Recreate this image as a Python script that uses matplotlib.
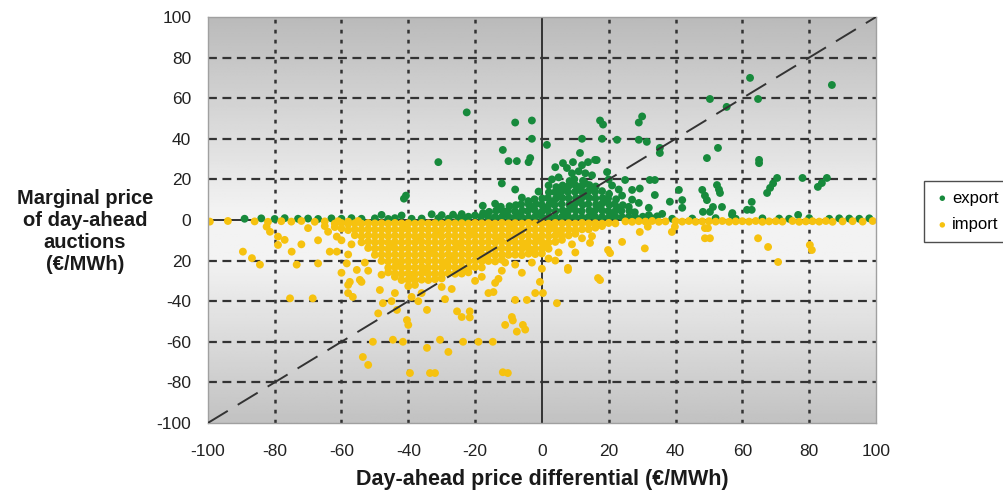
import matplotlib.pyplot as plt
import numpy as np

plt.rcParams['font.family'] = ['Liberation Sans', 'DejaVu Sans']

x_ticks = [-100, -80, -60, -40, -20, 0, 20, 40, 60, 80, 100]
y_ticks = [-100, -80, -60, -40, -20, 0, 20, 40, 60, 80, 100]
x_tick_labels = ['-100', '-80', '-60', '-40', '-20', '0', '20', '40', '60', '80', '100']
y_tick_labels = ['-100', '-80', '-60', '-40', '20', '0', '20', '40', '60', '80', '100']

# export points (x = price differential, y = marginal price)
export_pts = [
    # along the zero line
    (-89, 0.6), (-84, 0.8), (-80, 0.5), (-77, 0.9), (-73, 0.6), (-70, 0.7), (-67, 0.5), (-63, 0.8),
    (-60, 0.6), (-57, 0.9), (-54, 0.6), (-50, 0.8), (-46, 0.5), (-44, 0.9), (-39, 0.6), (-36, 0.7),
    (-31, 0.8), (-28, 0.6), (-25, 0.9), (-23, 0.7), (33, 0.8), (39, 0.6), (45, 0.7), (52, 0.9),
    (58, 0.6), (66, 0.8), (71, 0.7), (74, 0.6), (80, 0.9), (86, 0.6), (89, 0.8), (92, 0.7),
    (95, 0.6), (98, 0.8),
    # dense cluster
    (-22, 1.6), (-20, 2.2), (-18.2, 1.5), (-17.6, 3.4), (-16, 1.4), (-15.8, 4.0), (-14, 1.5), (-13.7, 4.6),
    (-12.1, 1.3), (-11.8, 4.4), (-12.3, 6.5), (-10, 1.6), (-10.2, 4.5), (-9.7, 6.8),
    (-8, 1.4), (-8.1, 4.3), (-7.8, 7.3), (-6.1, 1.5), (-5.9, 4.6), (-6.2, 7.7),
    (-4, 1.3), (-4.2, 4.4), (-3.9, 7.5), (-4.1, 9.3), (-2, 1.6), (-2.1, 4.7), (-1.8, 7.8), (-2.2, 10.2),
    (0, 1.4), (0.2, 4.5), (-0.1, 7.6), (0.1, 10.6),
    (2, 1.5), (1.9, 4.6), (2.2, 7.7), (1.8, 10.8), (2.1, 13.6),
    (4, 1.3), (4.1, 4.4), (3.8, 7.5), (4.2, 10.6), (3.9, 13.7), (4.3, 16.2),
    (6, 1.6), (6.2, 4.7), (5.9, 7.8), (6.1, 10.9), (5.8, 14), (6.2, 17),
    (8, 1.4), (7.9, 4.5), (8.2, 7.6), (8, 10.7), (7.8, 13.8), (8.1, 16.9), (8.3, 19.2),
    (10, 1.5), (10.1, 4.6), (9.8, 7.7), (10.2, 10.8), (9.9, 13.9), (10.1, 17), (9.7, 20),
    (12, 1.3), (11.9, 4.4), (12.2, 7.5), (11.8, 10.6), (12.1, 13.7), (12, 16.8), (12.3, 19.3),
    (14, 1.6), (14.2, 4.7), (13.9, 7.8), (14.1, 10.9), (13.8, 14), (14.2, 17.2),
    (16, 1.4), (15.8, 4.5), (16.2, 7.6), (16, 10.7), (15.9, 13.8), (16.1, 16.5),
    (18, 1.5), (18.1, 4.6), (17.8, 7.7), (18.2, 10.8), (18, 14.2),
    (20, 1.3), (19.9, 4.4), (20.2, 7.5), (19.8, 10.6), (20.1, 12.8),
    (22, 1.6), (22.1, 4.7), (21.8, 7.8), (22.2, 10.2), (24, 1.4), (23.8, 4.5), (24.2, 7.3),
    (26, 1.5), (26.2, 4.4), (28, 1.3), (27.8, 3.8), (30.2, 1.6), (32, 2.4), (34.5, 1.8), (36, 3),
    (2, 17), (5, 21), (9, 23), (11, 24), (15, 22), (3, 20), (-1, 14), (21, 17), (24, 12), (27, 10),
    (20, 20), (13, 23), (-6, 11), (-14, 8), (23, 15), (4, 26), (12, 27), (15.9, 29.6),
    (-1, 3), (1, 6), (3, 9), (5, 12), (7, 3), (9, 6), (11, 9), (13, 12), (15, 3), (17, 6), (19, 9),
    (-3, 6), (-7, 3), (-11, 3), (21, 3), (23, 6), (7, 15), (11, 15), (15, 15), (9, 18), (13, 18),
    # scattered
    (-22.5, 53), (-8, 48), (-3, 49), (-3, 40), (-11.7, 34.5), (-10, 29), (-7.5, 29), (-4, 28.5),
    (-3.5, 30.5), (-31, 28.5), (-40.7, 12), (-41.3, 10.5), (-12, 18), (-8, 15), (-17.7, 7),
    (-48, 2.5), (-42, 2.2), (-33, 2.8), (-30, 2.4), (-26.6, 2.6), (-24, 2.9),
    (17.4, 49), (18.3, 47), (29, 48), (30, 51), (12, 40), (18, 40), (22.5, 39.5), (29, 39.5),
    (31.4, 38.5), (35.3, 35.5), (35.3, 33), (1.5, 37), (11.4, 33), (9.3, 28.5), (13.8, 28.5),
    (16.4, 29.5), (6.3, 28), (7.5, 25.6), (49.4, 30.5), (19.5, 23.6), (32.3, 19.7), (33.8, 19.7),
    (24.9, 19.7), (27, 14.8), (29.3, 15.5), (33.8, 12.3), (41, 14.8), (42, 9.8), (48, 14.8),
    (49.4, 9.8), (48.8, 12), (38.3, 9), (42, 6), (29, 8.4), (32, 6), (26, 6.5),
    (62.3, 70), (86.8, 66.5), (64.7, 59.6), (55.3, 55.7), (50.3, 59.6), (52.7, 35.5), (65, 29.6),
    (65, 28), (70.4, 20.7), (69.2, 18), (68.3, 15.8), (67.4, 13.3), (78, 20.7), (85.3, 20.7),
    (83.8, 18.2), (82.6, 16.3), (52.4, 17.2), (53.3, 13.3), (53, 15), (51.2, 6.4), (53.9, 6.4),
    (62.8, 8.9), (62.8, 5), (61.4, 5), (56.9, 2.5), (76.7, 2.5), (48.2, 4), (50.3, 4), (57, 3.4),
]

# import points
import_pts = [
    # along the zero line
    (-99.4, -0.8), (-94, -0.5), (-86, -0.7), (-82, -0.9), (-78, -0.6), (-75, -0.8), (-72, -0.5),
    (-68, -0.9), (-65, -0.7), (-61, -0.6), (-58, -0.8), (-55, -0.5),
    (25, -0.7), (27, -0.9), (29, -0.6), (31, -0.8), (33, -0.5), (35, -0.9), (37, -0.7), (40, -0.6),
    (42, -0.8), (44, -0.5), (46, -0.9), (48, -0.7), (50, -0.6), (52, -0.8), (54, -0.5), (56, -0.9),
    (58, -0.7), (60, -0.6), (62, -0.8), (64, -0.5), (66, -0.9), (68, -0.7), (70, -0.6), (72, -0.8),
    (75, -0.5), (77, -0.9), (79, -0.7), (81, -0.6), (83, -0.8), (85, -0.5), (87, -0.9), (90, -0.7),
    (93, -0.6), (96, -0.8), (99, -0.5),
    # dense cluster
    (-62, -1.8), (-62, -3.5), (-60, -1.5), (-60, -4.2), (-58, -2), (-58, -5),
    (-56, -1.6), (-56, -4.6), (-56, -7.5),
    (-54, -1.8), (-54, -4.8), (-54, -8), (-54, -11),
    (-52, -1.5), (-52, -4.5), (-52, -7.6), (-52, -10.7), (-52, -13.8),
    (-50, -1.7), (-50, -4.8), (-50, -7.9), (-50, -11), (-50, -14.1), (-50, -17.2),
    (-48, -1.6), (-48, -4.7), (-48, -7.8), (-48, -10.9), (-48, -14), (-48, -17.1), (-48, -20.2),
    (-46, -1.8), (-46, -4.9), (-46, -8), (-46, -11.1), (-46, -14.2), (-46, -17.3), (-46, -20.4), (-46, -23.5), (-46, -25.8),
    (-44, -1.5), (-44, -4.6), (-44, -7.7), (-44, -10.8), (-44, -13.9), (-44, -17), (-44, -20.1), (-44, -23.2), (-44, -26.3), (-44, -28),
    (-42, -1.7), (-42, -4.8), (-42, -7.9), (-42, -11), (-42, -14.1), (-42, -17.2), (-42, -20.3), (-42, -23.4), (-42, -26.5), (-42, -29.6),
    (-40, -1.6), (-40, -4.7), (-40, -7.8), (-40, -10.9), (-40, -14), (-40, -17.1), (-40, -20.2), (-40, -23.3), (-40, -26.4), (-40, -29.5), (-40, -32.6),
    (-38, -1.8), (-38, -4.9), (-38, -8), (-38, -11.1), (-38, -14.2), (-38, -17.3), (-38, -20.4), (-38, -23.5), (-38, -26.6), (-38, -29.7), (-38, -32),
    (-36, -1.5), (-36, -4.6), (-36, -7.7), (-36, -10.8), (-36, -13.9), (-36, -17), (-36, -20.1), (-36, -23.2), (-36, -26.3), (-36, -29.4),
    (-34, -1.7), (-34, -4.8), (-34, -7.9), (-34, -11), (-34, -14.1), (-34, -17.2), (-34, -20.3), (-34, -23.4), (-34, -26.5), (-34, -29.6),
    (-32, -1.6), (-32, -4.7), (-32, -7.8), (-32, -10.9), (-32, -14), (-32, -17.1), (-32, -20.2), (-32, -23.3), (-32, -26.4), (-32, -29.2),
    (-30, -1.8), (-30, -4.9), (-30, -8), (-30, -11.1), (-30, -14.2), (-30, -17.3), (-30, -20.4), (-30, -23.5), (-30, -26.6), (-30, -28.8),
    (-28, -1.5), (-28, -4.6), (-28, -7.7), (-28, -10.8), (-28, -13.9), (-28, -17), (-28, -20.1), (-28, -23.2), (-28, -26.3),
    (-26, -1.7), (-26, -4.8), (-26, -7.9), (-26, -11), (-26, -14.1), (-26, -17.2), (-26, -20.3), (-26, -23.4), (-26, -26.5),
    (-24, -1.6), (-24, -4.7), (-24, -7.8), (-24, -10.9), (-24, -14), (-24, -17.1), (-24, -20.2), (-24, -23.3), (-24, -26.4),
    (-22, -1.8), (-22, -4.9), (-22, -8), (-22, -11.1), (-22, -14.2), (-22, -17.3), (-22, -20.4), (-22, -23.5), (-22, -25.8),
    (-20, -1.5), (-20, -4.6), (-20, -7.7), (-20, -10.8), (-20, -13.9), (-20, -17), (-20, -20.1), (-20, -23.2),
    (-18, -1.7), (-18, -4.8), (-18, -7.9), (-18, -11), (-18, -14.1), (-18, -17.2), (-18, -20.3), (-18, -23.4),
    (-16, -1.6), (-16, -4.7), (-16, -7.8), (-16, -10.9), (-16, -14), (-16, -17.1), (-16, -20.2),
    (-14, -1.8), (-14, -4.9), (-14, -8), (-14, -11.1), (-14, -14.2), (-14, -17.3), (-14, -20.4),
    (-12, -1.5), (-12, -4.6), (-12, -7.7), (-12, -10.8), (-12, -13.9), (-12, -17), (-12, -19.6),
    (-10, -1.7), (-10, -4.8), (-10, -7.9), (-10, -11), (-10, -14.1), (-10, -17.2),
    (-8, -1.6), (-8, -4.7), (-8, -7.8), (-8, -10.9), (-8, -14), (-8, -17.1),
    (-6, -1.8), (-6, -4.9), (-6, -8), (-6, -11.1), (-6, -14.2), (-6, -17.3),
    (-4, -1.5), (-4, -4.6), (-4, -7.7), (-4, -10.8), (-4, -13.9), (-4, -16.6),
    (-2, -1.7), (-2, -4.8), (-2, -7.9), (-2, -11), (-2, -14.1), (-2, -16.8),
    (0, -1.6), (0, -4.7), (0, -7.8), (0, -10.9), (0, -14), (0, -16.5),
    (2, -1.8), (2, -4.9), (2, -8), (2, -11.1), (2, -14.2),
    (4, -1.5), (4, -4.6), (4, -7.7), (4, -10.8), (6, -1.7), (6, -4.8), (6, -7.9), (6, -9.8),
    (8, -1.6), (8, -4.7), (8, -7.6), (10, -1.8), (10, -4.9), (10, -6.8),
    (12, -1.5), (12, -4.6), (14, -1.7), (14, -4.6), (16, -1.6), (16, -3.8), (18, -1.8), (18, -3),
    (20, -1.5), (22, -1.7),
    # scattered
    (-89.5, -15.6), (-86.8, -18.8), (-84.4, -22), (-82.4, -3.3), (-81.4, -5.8), (-79, -8.2), (-77, -9.8),
    (-79, -12.3), (-74.9, -15.6), (-73.4, -22), (-67, -21.4), (-75.4, -38.6), (-68.6, -38.6),
    (-64, -5.8), (-63.5, -15.6), (-61.4, -15.6), (-61.4, -8.2), (-58.4, -21.4), (-55.4, -24.6),
    (-54, -30.5), (-58, -32), (-56.6, -37.9), (-53.6, -67.5), (-50.6, -60), (-54.5, -29.5),
    (-57.5, -30.5), (-58, -36), (-52, -71.4), (-44.6, -59), (-41.6, -60), (-39.5, -75.4),
    (-33.5, -75.4), (-32, -75.4), (-34.4, -63), (-28, -65), (-30.5, -59), (-23.6, -60), (-19, -60),
    (-14.7, -60), (-11.7, -75), (-10.2, -75.4), (-25.4, -45), (-24, -47.8), (-21.6, -45), (-21.6, -48),
    (-9, -47.8), (-8.7, -49.5), (-11, -51.7), (-5.7, -51.7), (-7.5, -55), (-5, -54), (-40.4, -49.3),
    (-40, -51.7), (-43.4, -44.3), (-47.6, -41), (-49, -46), (-34.4, -44.3), (0.3, -36), (-0.6, -30.5),
    (4.5, -41), (-8, -39.4), (-4.5, -39.4), (-2, -36), (7.8, -24.6), (17.4, -29.6), (-39, -37.9),
    (-16, -36), (-14.5, -35.5), (-14, -31), (-48.5, -34.5),
    (14.4, -11.3), (19.8, -14.8), (24, -10.8), (30.8, -14), (29.3, -5.9), (31.7, -3.3), (38.9, -5.9),
    (39.8, -3.3), (48.8, -9), (50.3, -9), (64.7, -9), (67.7, -13.3), (70.7, -20.7), (80.2, -12.3),
    (80.8, -14.8), (7.8, -23.6), (16.8, -28.6), (20.4, -16.3), (48.8, -4), (49.7, -4),
    (-36, -36), (-30, -33), (-27, -34), (-20, -30), (-18, -28), (-12, -25), (-8, -22), (-3, -21),
    (2, -19), (5, -16), (9, -12), (12, -9), (-44, -36), (-45, -40), (-37, -40), (-29, -39), (-13, -29),
    (-6, -26), (0, -24), (4, -20), (10, -16), (15, -8), (-60, -10), (-57, -12), (-65, -3), (-70, -4),
    (-67, -10), (-72, -12), (-58, -17), (-53, -21), (-60, -26), (-48, -27), (-52, -25),
    (-41, -3), (-37, -9), (-33, -15), (-29, -21), (-25, -12), (-21, -6), (-17, -18), (-13, -9),
    (-9, -3), (-5, -12), (-1, -9), (3, -3), (-45, -12), (-39, -27), (-31, -6), (-27, -18), (-23, -24),
    (-19, -15), (-15, -3), (-11, -21), (-7, -6), (-3, -15), (1, -12), (5, -6), (-43, -21), (-35, -24),
]

ex_x, ex_y = zip(*export_pts)
im_x, im_y = zip(*import_pts)

fig = plt.figure(figsize=(10.04, 4.95), dpi=100)
ax = fig.add_axes([0.207, 0.1455, 0.6655, 0.8202])

# grey gradient background, light around zero
yy = np.linspace(-100, 100, 256)
shade = np.interp(yy, [-100, -20, 5, 100], [0.76, 0.95, 0.95, 0.73])
bg = np.repeat(shade[:, None], 2, axis=1)
ax.imshow(bg, extent=[-100, 100, -100, 100], origin='lower', aspect='auto', cmap='gray',
          vmin=0, vmax=1, interpolation='bilinear', zorder=0)

for v in x_ticks[1:-1]:
    if v != 0:
        ax.axvline(v, color='#333333', lw=1.8, ls=(0, (1.5, 2.5)), zorder=1)
for v in y_ticks[1:-1]:
    if v != 0:
        ax.axhline(v, color='#333333', lw=1.6, ls=(0, (4, 2.5)), zorder=1)
ax.axhline(0, color='#333333', lw=1.4, zorder=1.5)
ax.axvline(0, color='#333333', lw=1.4, zorder=1.5)

ax.scatter(ex_x, ex_y, s=32, color='#178a3c', edgecolors='none', label='export', zorder=2)
ax.scatter(im_x, im_y, s=32, color='#f6c20f', edgecolors='none', label='import', zorder=2)
ax.plot([-100, 100], [-100, 100], color='#333333', lw=1.4, ls=(0, (12, 6)), zorder=3)

ax.set_xlim(-100, 100)
ax.set_ylim(-100, 100)
ax.set_xticks(x_ticks)
ax.set_xticklabels(x_tick_labels)
ax.set_yticks(y_ticks)
ax.set_yticklabels(y_tick_labels)
ax.tick_params(length=0, labelsize=12.5, colors='#222222')
ax.tick_params(axis='x', pad=15)
ax.tick_params(axis='y', pad=12)
for sp in ax.spines.values():
    sp.set_color('#a0a0a0')
    sp.set_linewidth(1)

fig.text(0.54, 1 - 480 / 495, 'Day-ahead price differential (€/MWh)', ha='center', va='center',
         fontsize=15.5, fontweight='bold', color='#1a1a1a')
fig.text(85 / 1004, 1 - 232 / 495, 'Marginal price\nof day-ahead\nauctions\n(€/MWh)', ha='center', va='center',
         fontsize=14.5, fontweight='bold', color='#1a1a1a', linespacing=1.2)

leg = fig.legend(loc='upper left', bbox_to_anchor=(0.912, 0.652), frameon=True, fancybox=False,
                 fontsize=12, handletextpad=0.1, markerscale=0.7, borderpad=0.6, labelspacing=0.7,
                 handlelength=1.0)
leg.get_frame().set_edgecolor('#222222')
leg.get_frame().set_linewidth(1)

fig.savefig('out.png', dpi=100)
